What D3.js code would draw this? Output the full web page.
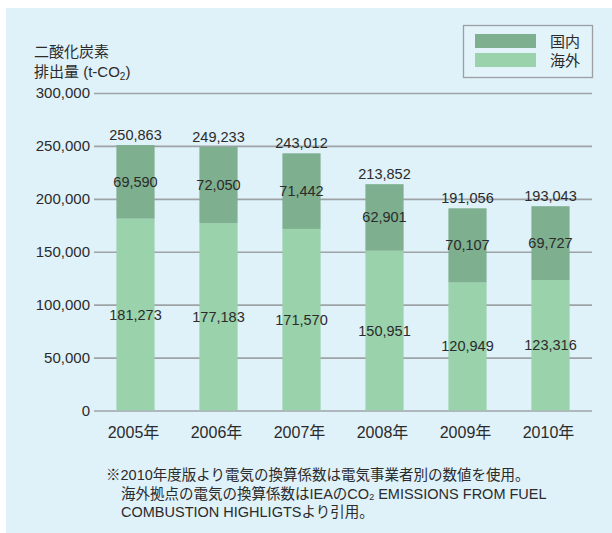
<!DOCTYPE html>
<html>
<head>
<meta charset="utf-8">
<script src="https://cdn.jsdelivr.net/npm/d3@7"></script>
<style>
  body { margin: 0; background: #fff; }
  svg text { font-family: "Liberation Sans", "Noto Sans CJK JP", sans-serif; fill: #2b2b2b; }
</style>
</head>
<body>
<div id="vizArea"></div>
<script>
// data
const years = ['2005年', '2006年', '2007年', '2008年', '2009年', '2010年']
const domestic = [69590, 72050, 71442, 62901, 70107, 69727]
const overseas = [181273, 177183, 171570, 150951, 120949, 123316]
const yTicks = [0, 50000, 100000, 150000, 200000, 250000, 300000]
const seriesNames = ['国内', '海外']

const darkGreen = '#7eaf8f'
const lightGreen = '#99d2ab'
const gridColor = '#9ea3a6'

const width = 612, height = 533

const rows = years.map((yr, i) => ({year: yr, 海外: overseas[i], 国内: domestic[i]}))
const stacked = d3.stack().keys(['海外', '国内'])(rows)

const svg = d3.select('#vizArea')
    .append('svg')
    .attr('width', width)
    .attr('height', height)

svg.append('rect')
    .attr('x', 6).attr('y', 8)
    .attr('width', width - 6).attr('height', height - 8)
    .attr('fill', '#dff1f9')

const x = d3.scaleBand().domain(years).range([94, 592]).paddingInner(0.54).paddingOuter(0.27)
const y = d3.scaleLinear().domain([0, 300000]).range([410.5, 93])
const fmt = d3.format(',')

// gridlines + tick labels
const yAxis = svg.append('g')
    .attr('transform', 'translate(94,0)')
    .call(d3.axisLeft(y).tickValues(yTicks).tickFormat(fmt).tickSize(-498).tickPadding(4))
yAxis.select('.domain').remove()
yAxis.selectAll('.tick line').attr('stroke', gridColor).attr('stroke-width', 1.6)
yAxis.selectAll('.tick text')
    .attr('font-size', 15)
    .attr('fill', '#2b2b2b')

// bars
const colorOf = {海外: lightGreen, 国内: darkGreen}
svg.append('g').selectAll('g')
    .data(stacked)
    .enter()
    .append('g')
    .attr('fill', d => colorOf[d.key])
    .selectAll('rect')
    .data(d => d)
    .enter()
    .append('rect')
    .attr('x', d => x(d.data.year))
    .attr('y', d => y(d[1]))
    .attr('width', x.bandwidth())
    .attr('height', d => y(d[0]) - y(d[1]))

// segment labels
const labels = svg.append('g').attr('font-size', 14.5).attr('text-anchor', 'middle')
stacked.forEach(layer => {
    labels.selectAll(null)
        .data(layer)
        .enter()
        .append('text')
        .attr('x', d => x(d.data.year) + x.bandwidth() / 2)
        .attr('y', d => y((d[0] + d[1]) / 2) + 5)
        .text(d => fmt(d[1] - d[0]))
})

// totals above bars
labels.selectAll(null)
    .data(stacked[1])
    .enter()
    .append('text')
    .attr('x', d => x(d.data.year) + x.bandwidth() / 2)
    .attr('y', d => y(d[1]) - 5)
    .text(d => fmt(d[1]))

// x labels
svg.append('g').selectAll('text')
    .data(years)
    .enter()
    .append('text')
    .attr('x', d => x(d) + x.bandwidth() / 2 - 2)
    .attr('y', 438)
    .attr('text-anchor', 'middle')
    .attr('font-size', 16)
    .text(d => d)

// y title
const title = svg.append('g').attr('font-size', 15)
title.append('text').attr('x', 34).attr('y', 57).text('二酸化炭素')
const t2 = title.append('text').attr('x', 34).attr('y', 77)
t2.append('tspan').text('排出量 (t-CO')
t2.append('tspan').attr('font-size', 10).attr('dy', 3).text('2')
t2.append('tspan').attr('dy', -3).text(')')

// legend
const legend = svg.append('g')
legend.append('rect')
    .attr('x', 463.5).attr('y', 25.5).attr('width', 129).attr('height', 52)
    .attr('fill', '#e2f3fa').attr('stroke', '#9c9fa1').attr('stroke-width', 1.3)
legend.selectAll('.sw')
    .data(seriesNames)
    .enter()
    .append('rect')
    .attr('x', 475).attr('y', (d, i) => 34 + i * 19)
    .attr('width', 61).attr('height', 14)
    .attr('fill', d => colorOf[d])
legend.selectAll('.lt')
    .data(seriesNames)
    .enter()
    .append('text')
    .attr('x', 550).attr('y', (d, i) => 46.5 + i * 19)
    .attr('font-size', 15)
    .text(d => d)

// footnote
const note = svg.append('g').attr('font-size', 14.5)
note.append('text').attr('x', 106).attr('y', 480).text('※2010年度版より電気の換算係数は電気事業者別の数値を使用。')
const n2 = note.append('text').attr('x', 121).attr('y', 499)
n2.append('tspan').text('海外拠点の電気の換算係数はIEAのCO')
n2.append('tspan').attr('font-size', 9).attr('dy', 1).text('2')
n2.append('tspan').attr('dy', -1).text(' EMISSIONS FROM FUEL')
note.append('text').attr('x', 121).attr('y', 517).text('COMBUSTION HIGHLIGTSより引用。')
</script>
</body>
</html>
